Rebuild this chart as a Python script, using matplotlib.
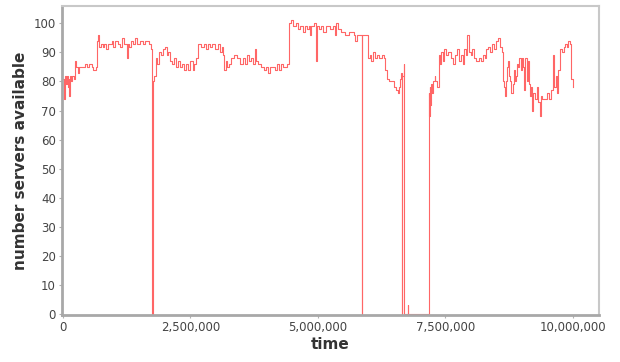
import numpy as np
import matplotlib
matplotlib.use("Agg")
import matplotlib.pyplot as plt
from matplotlib.ticker import StrMethodFormatter

# (time, servers available), step changes
t = [0, 15000, 30000, 50000, 70000, 90000, 110000, 125000, 140000, 165000,
     185000, 210000, 230000, 250000, 290000, 310000, 430000, 470000, 510000, 560000,
     590000, 640000, 670000, 690000, 710000, 740000, 780000, 810000, 850000, 880000,
     960000, 990000, 1010000, 1080000, 1110000, 1150000, 1190000, 1250000, 1270000, 1300000,
     1330000, 1380000, 1420000, 1460000, 1500000, 1560000, 1600000, 1680000, 1720000, 1745000,
     1760000, 1790000, 1820000, 1850000, 1880000, 1920000, 1960000, 2000000, 2030000, 2060000,
     2100000, 2140000, 2180000, 2220000, 2260000, 2300000, 2340000, 2380000, 2420000, 2460000,
     2500000, 2540000, 2570000, 2600000, 2640000, 2700000, 2760000, 2800000, 2840000, 2880000,
     2920000, 2980000, 3040000, 3080000, 3120000, 3140000, 3160000, 3190000, 3220000, 3260000,
     3300000, 3360000, 3420000, 3480000, 3520000, 3560000, 3600000, 3640000, 3680000, 3720000,
     3760000, 3790000, 3830000, 3880000, 3940000, 3980000, 4020000, 4060000, 4120000, 4160000,
     4200000, 4240000, 4270000, 4310000, 4400000, 4430000, 4470000, 4510000, 4560000, 4600000,
     4640000, 4700000, 4740000, 4780000, 4820000, 4850000, 4870000, 4920000, 4960000, 4975000,
     5020000, 5060000, 5100000, 5150000, 5240000, 5300000, 5330000, 5360000, 5400000, 5450000,
     5530000, 5600000, 5700000, 5730000, 5760000, 5855000, 5865000, 5975000, 6020000, 6040000,
     6080000, 6120000, 6160000, 6200000, 6260000, 6300000, 6320000, 6360000, 6400000, 6460000,
     6500000, 6540000, 6560000, 6580000, 6600000, 6620000, 6640000, 6650000, 6680000, 6690000,
     6760000, 6770000, 7163000, 7170000, 7180000, 7190000, 7200000, 7220000, 7240000, 7260000,
     7290000, 7300000, 7340000, 7370000, 7400000, 7420000, 7450000, 7480000, 7510000, 7550000,
     7600000, 7640000, 7680000, 7720000, 7760000, 7800000, 7840000, 7870000, 7900000, 7930000,
     7970000, 8000000, 8030000, 8060000, 8100000, 8160000, 8200000, 8240000, 8280000, 8300000,
     8340000, 8380000, 8420000, 8460000, 8500000, 8540000, 8570000, 8600000, 8620000, 8640000,
     8660000, 8680000, 8700000, 8720000, 8750000, 8770000, 8790000, 8820000, 8840000, 8860000,
     8880000, 8910000, 8930000, 8950000, 8980000, 9000000, 9030000, 9050000, 9070000, 9090000,
     9110000, 9130000, 9160000, 9180000, 9200000, 9220000, 9260000, 9290000, 9320000, 9350000,
     9370000, 9400000, 9450000, 9500000, 9540000, 9580000, 9610000, 9630000, 9660000, 9680000,
     9700000, 9750000, 9790000, 9820000, 9850000, 9880000, 9900000, 9940000, 9970000, 10000000]
v = [81, 74, 82, 79, 82, 78, 81, 75, 82, 80,
     82, 81, 87, 85, 83, 85, 86, 85, 86, 85,
     84, 85, 94, 96, 92, 93, 92, 93, 91, 93,
     94, 92, 94, 93, 92, 95, 93, 88, 93, 92,
     94, 93, 95, 93, 94, 93, 94, 93, 91, 0,
     80, 82, 88, 86, 90, 89, 91, 92, 89, 90,
     87, 86, 88, 85, 87, 85, 86, 84, 86, 84,
     87, 84, 86, 88, 93, 92, 93, 91, 93, 92,
     93, 91, 93, 90, 92, 89, 84, 87, 85, 86,
     88, 89, 88, 86, 88, 86, 89, 87, 88, 86,
     91, 87, 86, 85, 84, 85, 83, 85, 85, 84,
     86, 84, 86, 85, 86, 100, 101, 99, 100, 98,
     99, 97, 99, 98, 99, 96, 99, 100, 87, 99,
     98, 99, 97, 99, 98, 99, 96, 100, 98, 97,
     96, 97, 96, 94, 96, 0, 96, 88, 89, 87,
     90, 88, 89, 88, 89, 88, 84, 81, 80, 80,
     78, 77, 76, 78, 81, 83, 0, 82, 86, 0,
     3, 0, 0, 76, 68, 78, 72, 79, 76, 80,
     82, 80, 78, 89, 86, 90, 87, 91, 89, 90,
     88, 86, 89, 91, 87, 89, 86, 91, 89, 96,
     90, 89, 91, 88, 87, 88, 87, 89, 88, 91,
     92, 90, 93, 91, 94, 95, 92, 90, 80, 78,
     75, 80, 85, 87, 82, 80, 76, 79, 84, 80,
     82, 86, 85, 88, 84, 88, 85, 77, 88, 80,
     87, 79, 75, 78, 70, 76, 74, 78, 73, 68,
     75, 74, 74, 76, 74, 77, 89, 78, 82, 76,
     84, 91, 90, 92, 93, 92, 94, 93, 81, 78]

fig = plt.figure(figsize=(6.2, 3.62), dpi=100)
ax = fig.add_axes([0.1, 0.13, 0.866, 0.853])

ax.plot(t, v, drawstyle='steps-post', color='#ff4040', lw=0.8, alpha=0.8)

ax.set_xlim(-20000, 10510000)
ax.set_ylim(-0.3, 105.9)
ax.set_xticks([0, 2500000, 5000000, 7500000, 10000000])
ax.set_yticks(np.arange(0, 101, 10))
ax.xaxis.set_major_formatter(StrMethodFormatter('{x:,.0f}'))

ax.tick_params(axis='both', labelsize=8.5, labelcolor='#444444', color='#b0b0b0',
               length=2.5, width=0.8, pad=2)

for side in ['left', 'bottom']:
    ax.spines[side].set_color('#a8a8a8')
    ax.spines[side].set_linewidth(2)
for side in ['top', 'right']:
    ax.spines[side].set_color('#c8c8c8')
    ax.spines[side].set_linewidth(1.5)

ax.set_xlabel('time', fontsize=11, fontweight='bold', color='#333333', labelpad=2)
ax.set_ylabel('number servers available', fontsize=11, fontweight='bold',
              color='#333333', labelpad=4)

fig.savefig('out.png', dpi=100)
